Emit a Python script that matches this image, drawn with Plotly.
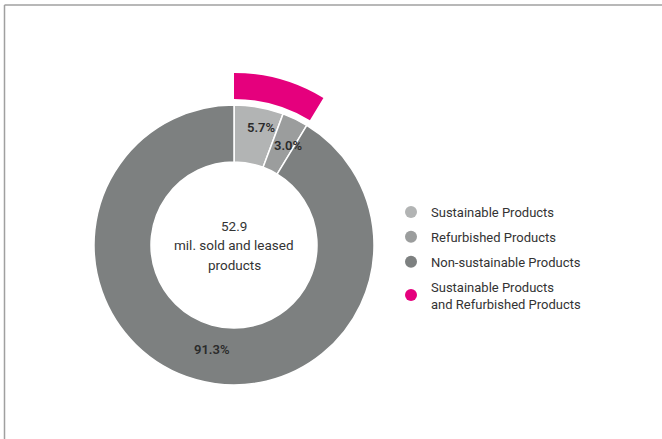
import math
import plotly.graph_objects as go

categories = ["Sustainable Products", "Refurbished Products", "Non-sustainable Products"]
shares = [5.7, 3.0, 91.3]
colors = ["#b2b4b4", "#9b9d9d", "#7d8080"]
highlight_name = "Sustainable Products<br>and Refurbished Products"
highlight_color = "#e5007d"
center_lines = ["52.9", "mil. sold and leased", "products"]

W, H = 662, 439
cx, cy = 234, 245          # donut centre in pixels
R_main, R_outer = 140, 172  # radii in pixels
hole_main = 83 / R_main
hole_outer = 146 / R_outer

def dom(r):
    return dict(x=[(cx - r) / W, (cx + r) / W], y=[(H - cy - r) / H, (H - cy + r) / H])

fig = go.Figure()
fig.add_trace(go.Pie(
    values=shares, labels=categories, marker=dict(colors=colors, line=dict(color="white", width=1.5)),
    hole=hole_main, sort=False, direction="clockwise", rotation=0, domain=dom(R_main),
    textinfo="none", showlegend=False, hoverinfo="label+percent"))

highlight_value = shares[0] + shares[1]
fig.add_trace(go.Pie(
    values=[highlight_value, 100 - highlight_value], labels=["highlight", "rest"],
    marker=dict(colors=[highlight_color, "rgba(0,0,0,0)"], line=dict(width=0)),
    hole=hole_outer, sort=False, direction="clockwise", rotation=0, domain=dom(R_outer),
    textinfo="none", showlegend=False, hoverinfo="skip"))

# legend entries (circles)
for i, (name, col) in enumerate(zip(categories + [highlight_name], colors + [highlight_color])):
    fig.add_trace(go.Scatter(x=[None], y=[None], mode="markers", name=name, legendgroup=str(i),
                             marker=dict(symbol="circle", size=13, color=col)))

# percentage labels
cum = 0
label_r = [0.86, 0.81, 0.76]
label_shift = [3, 3, -4]
annotations = []
for v, rf, sh in zip(shares, label_r, label_shift):
    mid = (cum + v / 2) / 100 * 360 + sh
    cum += v
    px = cx + rf * R_main * math.sin(math.radians(mid))
    py = cy - rf * R_main * math.cos(math.radians(mid))
    annotations.append(dict(x=px / W, y=1 - py / H, xref="paper", yref="paper", showarrow=False,
                            xanchor="center", yanchor="middle",
                            text=f"{v:.1f}%", font=dict(family="Roboto", size=13, color="#2b2b2b", weight=600)))
for k, line in enumerate(center_lines):
    annotations.append(dict(x=cx / W, y=1 - (cy - 19.5 + 19.5 * k) / H, xref="paper", yref="paper",
                            showarrow=False, text=line, xanchor="center", yanchor="middle",
                            font=dict(family="Roboto", size=13.5, color="#333333")))

fig.update_layout(
    width=W, height=H, margin=dict(l=0, r=0, t=0, b=0),
    paper_bgcolor="white", plot_bgcolor="white",
    xaxis=dict(visible=False), yaxis=dict(visible=False),
    annotations=annotations,
    legend=dict(x=391 / W, y=1 - 258 / H, xanchor="left", yanchor="middle",
                font=dict(family="Roboto", size=13, color="#333333"), tracegroupgap=5,
                itemsizing="constant"),
    shapes=[
        dict(type="line", xref="paper", yref="paper", x0=4.5 / W, x1=1, y0=1 - 5 / H, y1=1 - 5 / H,
             line=dict(color="#a0a0a0", width=1.5)),
        dict(type="line", xref="paper", yref="paper", x0=4.5 / W, x1=4.5 / W, y0=0, y1=1 - 5 / H,
             line=dict(color="#a0a0a0", width=1.5)),
    ],
)
fig.write_html("out.html", config={"displayModeBar": False},
               post_script="document.body.style.margin='0';")
